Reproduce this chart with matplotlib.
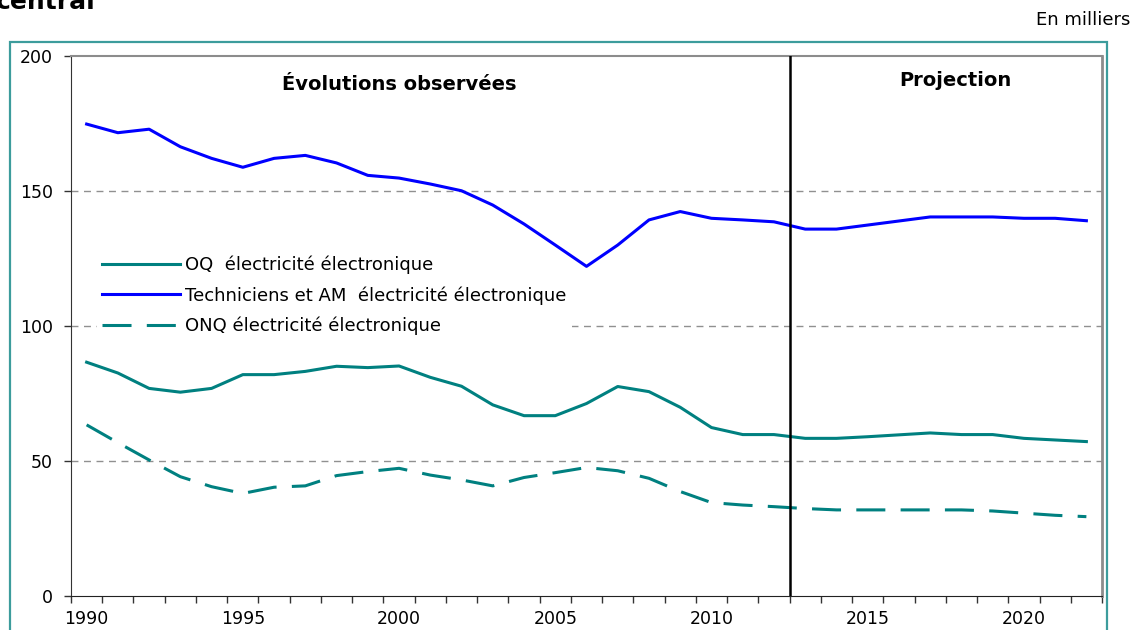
import matplotlib
matplotlib.use("Agg")
import matplotlib.pyplot as plt
from matplotlib.patches import Rectangle

years = list(range(1990, 2023))
techniciens = [174.9, 171.7, 173.0, 166.5, 162.2, 158.9, 162.2, 163.3, 160.5, 155.9,
               154.9, 152.7, 150.2, 144.9, 137.9, 130.1, 122.2, 130.1, 139.4, 142.5,
               140.0, 139.4, 138.7, 136.0, 136.0, 137.5, 139.0, 140.5, 140.5, 140.5,
               140.0, 140.0, 139.1]
oq = [86.7, 82.7, 77.0, 75.6, 77.0, 82.1, 82.1, 83.3, 85.2, 84.7,
      85.3, 81.1, 77.8, 70.9, 66.9, 66.9, 71.4, 77.7, 75.8, 70.0,
      62.5, 59.9, 59.9, 58.5, 58.5, 59.1, 59.8, 60.5, 59.9, 59.9,
      58.5, 57.9, 57.3]
onq = [63.5, 56.9, 50.5, 44.3, 40.6, 38.1, 40.4, 40.9, 44.7, 46.2,
       47.4, 44.9, 43.1, 40.9, 44.0, 45.8, 47.7, 46.5, 43.7, 38.8,
       34.7, 33.8, 33.2, 32.5, 32.0, 32.0, 32.0, 32.0, 32.0, 31.6,
       30.8, 30.0, 29.5]

label_oq = "OQ  électricité électronique"
label_tech = "Techniciens et AM  électricité électronique"
label_onq = "ONQ électricité électronique"

xtick_years = [1990, 1995, 2000, 2005, 2010, 2015, 2020]
yticks = [0, 50, 100, 150, 200]
projection_start = 2012.5

W, H = 1136, 630
fig = plt.figure(figsize=(W / 100, H / 100), dpi=100)
plt.rcParams['font.family'] = ['DejaVu Sans']

# outer teal frame (extends below the figure bottom)
fig.patches.append(Rectangle((10 / W, -0.2), (1107 - 10) / W, 1 - 42 / H + 0.2,
                             transform=fig.transFigure, fill=False,
                             edgecolor='#3c9c9c', linewidth=1.6))

ax = fig.add_axes([71 / W, 1 - 596.3 / H, (1102 - 71) / W, (596.3 - 56.3) / H])

teal = '#008080'
l1, = ax.plot(years, oq, color=teal, lw=2.2, label=label_oq, zorder=3)
l2, = ax.plot(years, techniciens, color='#0000ff', lw=2.2, label=label_tech, zorder=3)
l3, = ax.plot(years, onq, color=teal, lw=2.2, dashes=(9.5, 5), label=label_onq, zorder=3)

ax.set_xlim(1989.5, 2022.5)
ax.set_ylim(0, 200)

for v in [50, 100, 150]:
    ax.axhline(v, color='#909090', lw=1.0, dashes=(5, 4), zorder=1)

ax.axvline(projection_start, color='black', lw=1.8, zorder=4)

ax.set_xticks(xtick_years)
ax.set_xticklabels([str(y) for y in xtick_years], fontsize=12.5)
ax.set_xticks([y - 0.5 for y in years] + [2022.5], minor=True)
ax.tick_params(axis='x', which='major', length=0, pad=10)
ax.tick_params(axis='x', which='minor', length=5, width=1, color='#333333', direction='out')
ax.set_yticks(yticks)
ax.set_yticklabels([str(v) for v in yticks], fontsize=12.5)
ax.tick_params(axis='y', length=5, width=1, color='#333333', pad=8)

ax.spines['left'].set_color('#333333')
ax.spines['bottom'].set_color('#222222')
ax.spines['top'].set_color('#8c8c8c')
ax.spines['right'].set_color('#8c8c8c')
ax.spines['right'].set_linewidth(2)
ax.spines['top'].set_linewidth(1.5)

ax.text(2000, 189.5, "Évolutions observées", ha='center', va='center',
        fontsize=14, fontweight='bold')
ax.text(2017.8, 191, "Projection", ha='center', va='center',
        fontsize=14, fontweight='bold')

leg = ax.legend(handles=[l1, l2, l3], loc='upper left',
                bbox_to_anchor=(26 / 1031, (596.3 - 250) / 540),
                frameon=True, fontsize=13, handlelength=4.3, handletextpad=0.3,
                labelspacing=0.68, borderpad=0.3, borderaxespad=0)
leg.get_frame().set_edgecolor('none')
leg.get_frame().set_facecolor('white')
leg.get_frame().set_alpha(1)
leg.set_zorder(2)

fig.text(1130 / W, 1 - 20 / H, "En milliers", ha='right', va='center', fontsize=13)
fig.text(-4 / W, 1 - 9 / H, "central", ha='left', va='baseline', fontsize=18,
         fontweight='bold')

fig.savefig("out.png", dpi=100, facecolor='white')
